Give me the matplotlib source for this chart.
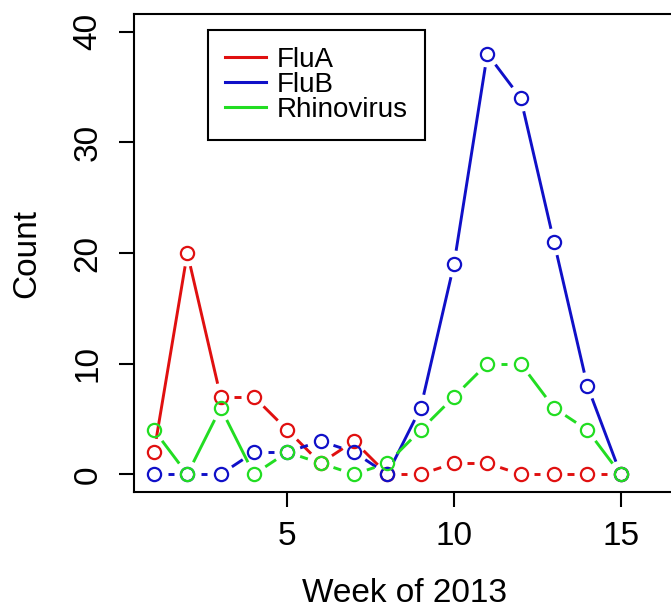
import matplotlib
matplotlib.use("Agg")
import matplotlib.pyplot as plt
import numpy as np

plt.rcParams["font.family"] = ["Liberation Sans", "DejaVu Sans"]

weeks = list(range(1, 16))
flu_a = [2, 20, 7, 7, 4, 1, 3, 0, 0, 1, 1, 0, 0, 0, 0]
flu_b = [0, 0, 0, 2, 2, 3, 2, 0, 6, 19, 38, 34, 21, 8, 0]
rhino = [4, 0, 6, 0, 2, 1, 0, 1, 4, 7, 10, 10, 6, 4, 0]

series = [
    ("FluA", flu_a, "#e01010"),
    ("FluB", flu_b, "#1010c8"),
    ("Rhinovirus", rhino, "#22dd22"),
]

W, H = 671, 614
fig = plt.figure(figsize=(W / 100, H / 100), dpi=100)
# plot box in pixels: left 134, right 674 (runs off the edge), top 14, bottom 492
ax = fig.add_axes([134 / W, (H - 492) / H, (674 - 134) / W, (492 - 14) / H])
ax.set_xlim(0.4, 16.6)
ax.set_ylim(-1.6, 41.6)

GAP = 13.5  # px between point centre and segment end (R type="b")


def type_b(ax, x, y, color):
    pts = ax.transData.transform(np.column_stack([x, y]))
    inv = ax.transData.inverted()
    for p0, p1 in zip(pts[:-1], pts[1:]):
        d = p1 - p0
        length = np.hypot(*d)
        if length <= 2 * GAP:
            continue
        u = d / length
        a = inv.transform(p0 + u * GAP)
        b = inv.transform(p1 - u * GAP)
        ax.plot([a[0], b[0]], [a[1], b[1]], color=color, lw=2.1,
                solid_capstyle="butt")
    ax.plot(x, y, linestyle="none", marker="o", markersize=9.5,
            markerfacecolor="none", markeredgecolor=color, markeredgewidth=1.6)


for name, vals, col in series:
    type_b(ax, weeks, vals, col)

ax.set_xticks([5, 10, 15])
ax.set_yticks([0, 10, 20, 30, 40])
ax.tick_params(axis="both", length=11, width=1.5, labelsize=24, direction="out")
ax.tick_params(axis="x", pad=10)
ax.tick_params(axis="y", pad=11)
for lab in ax.get_yticklabels():
    lab.set_rotation(90)
    lab.set_va("center")
for s in ax.spines.values():
    s.set_linewidth(1.5)

fig.text(404 / W, 1 - 594 / H, "Week of 2013", ha="center", va="center", fontsize=24)
fig.text(27 / W, 1 - 253 / H, "Count", ha="center", va="center", fontsize=24,
         rotation=90)

handles = [plt.Line2D([], [], color=c, lw=2.2) for _, _, c in series]
leg = fig.legend(handles, [n for n, _, _ in series], loc="upper left",
                 bbox_to_anchor=(208 / W, 1 - 30 / H), borderaxespad=0,
                 fontsize=20, handlelength=1.45, handletextpad=0.4,
                 labelspacing=-0.04, borderpad=0.62, fancybox=False,
                 edgecolor="black", framealpha=1)
leg.get_frame().set_linewidth(1.5)

fig.savefig("out.png", dpi=100)
